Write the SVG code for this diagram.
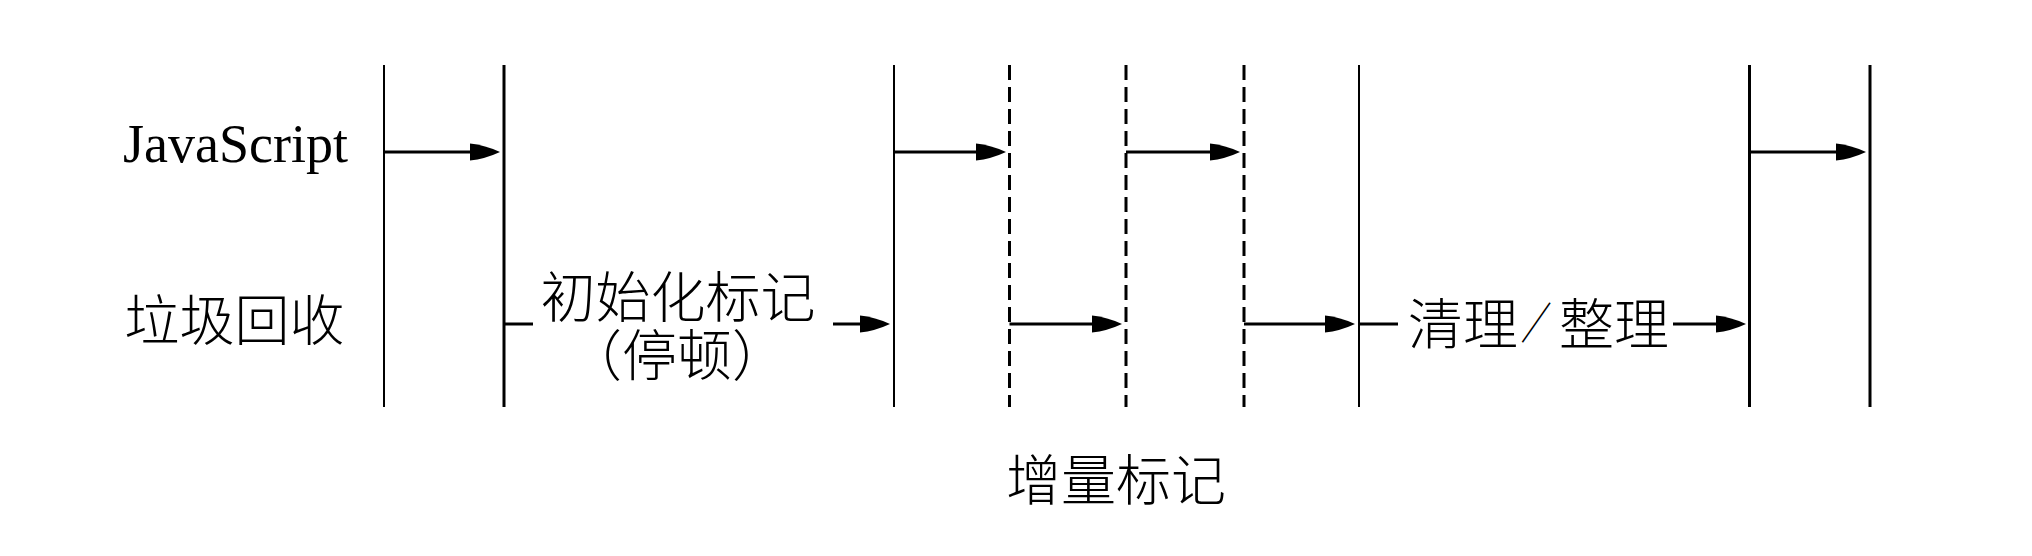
<svg xmlns="http://www.w3.org/2000/svg" width="2032" height="556" viewBox="0 0 2032 556">
<style>
.bg{fill:#fff}
.thin{stroke:#000;stroke-width:2;fill:none}
.thick{stroke:#000;stroke-width:3;fill:none}
.dash{stroke:#000;stroke-width:3;stroke-dasharray:15 7;fill:none}
.conn{stroke:#000;stroke-width:3;fill:none}
.arr{marker-end:url(#ah)}
.lat{font-family:"Liberation Serif","Times New Roman",serif;font-size:54px;fill:#000}
.cjk{font-family:"Liberation Serif","Noto Sans CJK SC",serif;font-size:55px;font-weight:300;fill:#000}
</style>
<defs>
<marker id="ah" markerUnits="userSpaceOnUse" markerWidth="30" markerHeight="18" refX="20" refY="9" orient="auto" viewBox="0 0 30 18">
<path d="M0,0.5 Q15,2 30,9 Q15,16 0,17.5 z" fill="#000"/>
</marker>
</defs>
<rect class="bg" x="0" y="0" width="2032" height="556"/>
<g id="timelines">
<line id="t1" class="thin" x1="384" y1="65" x2="384" y2="407"/>
<line id="t2" class="thick" x1="504" y1="65" x2="504" y2="407"/>
<line id="t3" class="thin" x1="894" y1="65" x2="894" y2="407"/>
<line id="t4" class="dash" x1="1009.5" y1="65" x2="1009.5" y2="407"/>
<line id="t5" class="dash" x1="1126" y1="65" x2="1126" y2="407"/>
<line id="t6" class="dash" x1="1244" y1="65" x2="1244" y2="407"/>
<line id="t7" class="thin" x1="1359" y1="65" x2="1359" y2="407"/>
<line id="t8" class="thick" x1="1749.5" y1="65" x2="1749.5" y2="407"/>
<line id="t9" class="thick" x1="1870" y1="65" x2="1870" y2="407"/>
</g>
<g id="connectors">
<line class="conn arr" x1="384" y1="152" x2="490" y2="152"/>
<line class="conn" x1="504" y1="324" x2="533" y2="324"/>
<line class="conn arr" x1="833" y1="324" x2="880" y2="324"/>
<line class="conn arr" x1="894" y1="152" x2="996" y2="152"/>
<line class="conn arr" x1="1009.5" y1="324" x2="1112" y2="324"/>
<line class="conn arr" x1="1126" y1="152" x2="1230" y2="152"/>
<line class="conn arr" x1="1244" y1="324" x2="1345" y2="324"/>
<line class="conn" x1="1359" y1="324" x2="1398" y2="324"/>
<line class="conn arr" x1="1673" y1="324" x2="1736" y2="324"/>
<line class="conn arr" x1="1749.5" y1="152" x2="1856" y2="152"/>
</g>
<g id="label-js"><text class="lat" x="123" y="162">JavaScript</text></g>
<g id="label-gc"><text class="cjk" x="234.5" y="340" text-anchor="middle">垃圾回收</text></g>
<g id="label-init"><text class="cjk" x="678" y="317" text-anchor="middle">初始化标记</text>
<text class="cjk" x="677" y="375" text-anchor="middle">（停顿）</text></g>
<g id="label-sweep"><text class="cjk" y="344"><tspan x="1408">清理</tspan><tspan x="1520" y="340" font-size="38" rotate="-10">／</tspan><tspan x="1559" y="344">整理</tspan></text></g>
<g id="label-inc"><text class="cjk" x="1116" y="500" text-anchor="middle">增量标记</text></g>
</svg>
